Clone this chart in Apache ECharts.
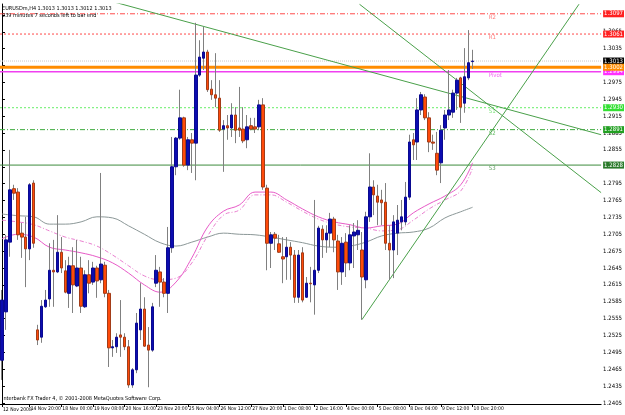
<!DOCTYPE html>
<html>
<head>
<meta charset="utf-8">
<script src="https://cdn.jsdelivr.net/npm/echarts@6/dist/echarts.min.js"></script>
<style>
  html, body { margin: 0; padding: 0; background: #fff; }
  #chart { width: 625px; height: 415px; }
</style>
</head>
<body>
<div id="chart"></div>
<script>
// EURUSDm H4, bars, oldest first
const opens = [1.2481,1.2567,1.2691,1.2786,1.2780,1.2707,1.2700,1.2679,1.2796,1.2535,
  1.2522,1.2576,1.2590,1.2641,1.2638,1.2673,1.2640,1.2600,1.2649,1.2613,
  1.2645,1.2576,1.2633,1.2620,1.2645,1.2624,1.2650,1.2600,1.2503,1.2505,
  1.2526,1.2522,1.2505,1.2437,1.2464,1.2535,1.2572,1.2508,1.2499,1.2618,
  1.2638,1.2620,1.2600,1.2681,1.2825,1.2876,1.2912,1.2828,1.2873,1.2867,
  1.2988,1.3018,1.3029,1.2963,1.2953,1.2947,1.2892,1.2898,1.2894,1.2917,
  1.2894,1.2892,1.2873,1.2898,1.2896,1.2896,1.2935,1.2787,1.2689,1.2705,
  1.2688,1.2665,1.2665,1.2682,1.2668,1.2593,1.2672,1.2593,1.2618,1.2615,
  1.2641,1.2714,1.2695,1.2707,1.2732,1.2693,1.2638,1.2691,1.2654,1.2702,
  1.2704,1.2677,1.2624,1.2736,1.2789,1.2773,1.2766,1.2762,1.2689,1.2677,
  1.2707,1.2727,1.2727,1.2771,1.2873,1.2869,1.2926,1.2949,1.2912,1.2869,
  1.2849,1.2832,1.2894,1.2917,1.2922,1.2956,1.2983,1.2938,1.2983,1.3012];
const closes = [1.2588,1.2695,1.2784,1.2778,1.2704,1.2700,1.2679,1.2793,1.2689,1.2517,
  1.2577,1.2588,1.2641,1.2638,1.2673,1.2645,1.2602,1.2649,1.2615,1.2645,
  1.2577,1.2633,1.2618,1.2645,1.2622,1.2652,1.2600,1.2503,1.2505,1.2522,
  1.2522,1.2505,1.2437,1.2464,1.2547,1.2572,1.2506,1.2499,1.2576,1.2641,
  1.2620,1.2600,1.2681,1.2825,1.2876,1.2912,1.2828,1.2873,1.2867,1.2988,
  1.3020,1.3029,1.2962,1.2953,1.2947,1.2890,1.2898,1.2894,1.2917,1.2890,
  1.2890,1.2871,1.2896,1.2892,1.2892,1.2935,1.2789,1.2689,1.2704,1.2698,
  1.2673,1.2661,1.2682,1.2668,1.2593,1.2668,1.2588,1.2618,1.2617,1.2641,
  1.2716,1.2695,1.2707,1.2732,1.2695,1.2638,1.2689,1.2654,1.2704,1.2709,
  1.2712,1.2629,1.2736,1.2789,1.2775,1.2762,1.2761,1.2689,1.2677,1.2727,
  1.2730,1.2736,1.2771,1.2869,1.2864,1.2926,1.2953,1.2912,1.2869,1.2867,
  1.2819,1.2890,1.2917,1.2926,1.2956,1.2979,1.2931,1.2985,1.3010,1.3013];
const lows = [1.2446,1.2535,1.2665,1.2766,1.2695,1.2663,1.2611,1.2659,1.2681,1.2508,
  1.2512,1.2574,1.2576,1.2576,1.2636,1.2636,1.2600,1.2574,1.2565,1.2611,
  1.2565,1.2574,1.2600,1.2615,1.2592,1.2618,1.2593,1.2469,1.2487,1.2494,
  1.2487,1.2499,1.2432,1.2432,1.2458,1.2517,1.2505,1.2433,1.2496,1.2611,
  1.2576,1.2593,1.2565,1.2672,1.2810,1.2873,1.2825,1.2819,1.2814,1.2801,
  1.2985,1.2997,1.2958,1.2944,1.2931,1.2887,1.2816,1.2873,1.2878,1.2867,
  1.2878,1.2867,1.2858,1.2890,1.2885,1.2890,1.2784,1.2641,1.2645,1.2677,
  1.2672,1.2618,1.2624,1.2624,1.2583,1.2583,1.2584,1.2592,1.2584,1.2562,
  1.2636,1.2663,1.2672,1.2682,1.2673,1.2606,1.2615,1.2629,1.2641,1.2645,
  1.2677,1.2553,1.2609,1.2727,1.2739,1.2721,1.2721,1.2677,1.2624,1.2627,
  1.2668,1.2712,1.2721,1.2766,1.2837,1.2837,1.2917,1.2908,1.2851,1.2855,
  1.2810,1.2796,1.2873,1.2908,1.2912,1.2926,1.2903,1.2921,1.2979,1.2999];
const highs = [1.2606,1.2704,1.2855,1.2793,1.2787,1.2725,1.2736,1.2796,1.2801,1.2544,
  1.2588,1.2606,1.2689,1.2695,1.2739,1.2700,1.2659,1.2665,1.2682,1.2695,
  1.2665,1.2641,1.2659,1.2656,1.2649,1.2814,1.2656,1.2606,1.2517,1.2529,
  1.2588,1.2529,1.2517,1.2467,1.2565,1.2618,1.2593,1.2540,1.2583,1.2668,
  1.2647,1.2627,1.2718,1.2878,1.2878,1.2962,1.2914,1.2878,1.2885,1.3081,
  1.3050,1.3074,1.3033,1.2979,1.3027,1.2979,1.2908,1.2917,1.2938,1.2931,
  1.2967,1.2931,1.2917,1.2912,1.2912,1.2944,1.2947,1.2793,1.2709,1.2709,
  1.2704,1.2700,1.2700,1.2691,1.2677,1.2677,1.2682,1.2629,1.2647,1.2766,
  1.2720,1.2721,1.2721,1.2743,1.2736,1.2704,1.2700,1.2707,1.2721,1.2725,
  1.2730,1.2709,1.2745,1.2849,1.2801,1.2793,1.2784,1.2796,1.2721,1.2739,
  1.2757,1.2766,1.2798,1.2882,1.2885,1.2947,1.2958,1.2954,1.2922,1.2882,
  1.2887,1.2899,1.2926,1.2997,1.2962,1.2983,1.2985,1.3036,1.3068,1.3033];

// moving averages, read every 4th bar
const maBars = [0,4,8,12,16,20,24,28,32,36,40,44,48,52,56,60,64,68,72,76,80,84,88,92,96,100,104,108,112,116,119];
const maGray = [1.2741,1.2738,1.2736,1.2723,1.2723,1.2727,1.2736,1.2734,1.2720,1.2705,1.2690,1.2684,1.2691,1.2700,1.2707,1.2705,
  1.2704,1.2700,1.2695,1.2690,1.2684,1.2682,1.2684,1.2691,1.2702,1.2707,1.2709,1.2716,1.2734,1.2745,1.2753];
const maPink = [1.2697,1.2705,1.2700,1.2682,1.2677,1.2672,1.2665,1.2654,1.2636,1.2615,1.2602,1.2620,1.2663,1.2718,1.2746,1.2757,
  1.2780,1.2780,1.2766,1.2750,1.2736,1.2727,1.2722,1.2716,1.2720,1.2723,1.2743,1.2759,1.2773,1.2793,1.2832];
const maPinkDash = [1.2730,1.2727,1.2722,1.2711,1.2700,1.2693,1.2684,1.2668,1.2649,1.2631,1.2624,1.2627,1.2654,1.2702,1.2739,1.2748,
  1.2775,1.2775,1.2762,1.2746,1.2732,1.2723,1.2718,1.2716,1.2711,1.2713,1.2730,1.2750,1.2766,1.2782,1.2823];

// pivot levels and the other horizontal lines
const pivotNames = ['R2', 'R1', 'Pivot', 'S1', 'S2', 'S3'];
const pivotValues = [1.3097, 1.3061, 1.2994, 1.2930, 1.2891, 1.2828];
const bidPrice = 1.3013;
const orangeLevel = 1.3002;

// trend lines: [bar, price] end points
const trendLines = [
  [[28.3, 1.3118], [151.5, 1.2882]],
  [[90.4, 1.3114], [151.5, 1.2779]],
  [[91, 1.2553], [145.9, 1.3114]]
];

const priceTicks = [1.2405,1.2435,1.2465,1.2495,1.2525,1.2555,1.2585,1.2615,1.2645,1.2675,1.2705,1.2735,
  1.2765,1.2795,1.2825,1.2855,1.2885,1.2915,1.2945,1.2975,1.3005,1.3035,1.3065,1.3095];
const dateLabels = ['12 Nov 2008','14 Nov 20:00','18 Nov 00:00','19 Nov 08:00','20 Nov 16:00','23 Nov 20:00',
  '25 Nov 04:00','26 Nov 12:00','27 Nov 20:00','1 Dec 08:00','2 Dec 16:00','4 Dec 00:00',
  '5 Dec 08:00','8 Dec 04:00','9 Dec 12:00','10 Dec 20:00'];
const dateLabelBars = [0,7,15,23,31,39,47,55,63,71,79,87,95,103,111,119];

const SLOTS = 152;   // bar slots across the window incl. chart shift
const FONT = "'Liberation Sans Narrow', 'DejaVu Sans Condensed', 'Liberation Sans', sans-serif";
const FS = 5.5;
const FS_X = 5;

const cats = [];
for (let i = 0; i < SLOTS; i++) {
  const k = dateLabelBars.indexOf(i);
  cats.push(k >= 0 ? dateLabels[k] : '');
}
const hasTick = (i) => dateLabelBars.indexOf(i) >= 0;
// the first (date only) label is drawn separately, echarts drops it next to the second one
const hasLabel = (i) => i > 0 && hasTick(i);

const ohlc = opens.map((o, i) => [o, closes[i], lows[i], highs[i]]);
const bodies = opens.map((o, i) => [o, closes[i], Math.min(o, closes[i]), Math.max(o, closes[i])]);

const pivotStyles = [
  { line: '#ff4a4a', type: [5, 2, 1, 2], box: '#ff2020', text: '#ff5a5a' },
  { line: '#ff4a4a', type: [2, 2], box: '#ff2020', text: '#ff5a5a' },
  { line: '#f040f0', type: 'solid', box: '#ff30ff', text: '#f040f0', width: 1.5 },
  { line: '#66ee66', type: [2, 2], box: '#33e033', text: '#55dd55' },
  { line: '#3caa3c', type: [5, 2, 1, 2], box: '#22a022', text: '#3caa3c' },
  { line: '#3d8b3d', type: 'solid', box: '#2a7a2a', text: '#3d8b3d' }
];

// a horizontal level across the whole window, price box on the axis
const level = (name, v, color, type, width, box) => ({
  name, type: 'line', xAxisIndex: 1, silent: true, showSymbol: false, z: 3,
  data: [[-0.5, v], [SLOTS - 0.5, v]],
  lineStyle: { color, type, width },
  endLabel: {
    show: true, distance: 2, formatter: () => v.toFixed(4),
    backgroundColor: box, color: '#fff', fontSize: 6, fontFamily: FONT, padding: [1, 1, 0, 1]
  }
});

const levelSeries = pivotValues.map((v, k) =>
  level(pivotNames[k], v, pivotStyles[k].line, pivotStyles[k].type, pivotStyles[k].width || 1, pivotStyles[k].box));
levelSeries.push(level('bid', bidPrice, '#c8c8c8', [1, 1], 1, '#000'));
levelSeries.push(level('orange', orangeLevel, '#ff8c00', 'solid', 3, '#ff8c00'));

const maLine = (name, vals, color, type) => ({
  name, type: 'line', xAxisIndex: 1, yAxisIndex: 0,
  data: maBars.map((b, i) => [b, vals[i]]),
  showSymbol: false, smooth: 0.4, silent: true,
  lineStyle: { color, width: 1, type }
});

const chart = echarts.init(document.getElementById('chart'), null, { renderer: 'canvas' });

chart.setOption({
  animation: false,
  backgroundColor: '#ffffff',
  title: [
    {
      text: 'EURUSDm,H4 1.3013 1.3013 1.3012 1.3013\n239 minutes 7 seconds left to bar end',
      left: 2, top: 5, padding: 0,
      textStyle: { fontSize: FS, fontWeight: 'normal', color: '#000', fontFamily: FONT, lineHeight: 7 }
    },
    {
      text: 'Interbank FX Trader 4, \u00a9 2001-2008 MetaQuotes Software Corp.',
      left: 2, top: 396, padding: 0,
      textStyle: { fontSize: FS, fontWeight: 'normal', color: '#000', fontFamily: FONT }
    },
    {
      text: dateLabels[0],
      left: 3, top: 407, padding: 0,
      textStyle: { fontSize: FS_X, fontWeight: 'normal', color: '#000', fontFamily: FONT }
    }
  ],
  grid: { left: 0, right: 19, top: 4, bottom: 11 },
  xAxis: [
    {
      type: 'category', data: cats, boundaryGap: true,
      axisLine: { show: true, lineStyle: { color: '#000', width: 1 } },
      axisTick: { show: true, alignWithLabel: true, interval: (i) => hasTick(i), length: 3, lineStyle: { color: '#000' } },
      axisLabel: { interval: (i) => hasLabel(i), showMinLabel: true, showMaxLabel: true, hideOverlap: false,
        align: 'left', margin: 2, padding: [0, 0, 0, 1], fontSize: FS_X, color: '#000', fontFamily: FONT },
      splitLine: { show: false }
    },
    { type: 'value', min: -0.5, max: SLOTS - 0.5, show: false }
  ],
  yAxis: {
    type: 'value', position: 'right', min: 1.24032, max: 1.31144, scale: true,
    splitLine: { show: false },
    axisLine: { show: true, lineStyle: { color: '#000', width: 1 } },
    axisTick: { show: true, length: 3, customValues: priceTicks, lineStyle: { color: '#000' } },
    axisLabel: { customValues: priceTicks, formatter: (v) => v.toFixed(4), fontSize: 6,
      color: '#000', margin: 2, fontFamily: FONT }
  },
  series: [
    ...levelSeries,
    maLine('ma-gray', maGray, '#8c9898', 'solid'),
    maLine('ma-pink', maPink, '#e85ac8', 'solid'),
    maLine('ma-pink-dash', maPinkDash, '#ea80d0', [4, 2, 1, 2]),
    ...trendLines.map((pts, k) => ({
      name: 'trend' + k, type: 'line', xAxisIndex: 1, data: pts, showSymbol: false, silent: true,
      lineStyle: { color: '#4aa04a', width: 1 }
    })),
    {
      name: 'wicks', type: 'candlestick', data: ohlc, barWidth: 1, z: 4,
      itemStyle: { color: '#808080', color0: '#808080', borderColor: '#808080', borderColor0: '#808080', borderWidth: 1 }
    },
    {
      name: 'bodies', type: 'candlestick', data: bodies, barWidth: 3, z: 5,
      itemStyle: { color: '#0c0cb0', color0: '#ff4a0a', borderColor: '#0a0a90', borderColor0: '#a33c18', borderWidth: 1 }
    },
    {
      name: 'pivot-names', type: 'scatter', xAxisIndex: 1, symbolSize: 1, silent: true, z: 6,
      itemStyle: { color: 'rgba(0,0,0,0)' },
      data: pivotValues.map((v, k) => ({ value: [123.2, v], name: pivotNames[k],
        label: { color: pivotStyles[k].text } })),
      label: { show: true, position: [0, 1], align: 'left', verticalAlign: 'top',
        formatter: (p) => p.name, fontSize: 6, fontFamily: FONT }
    }
  ]
});
</script>
</body>
</html>
